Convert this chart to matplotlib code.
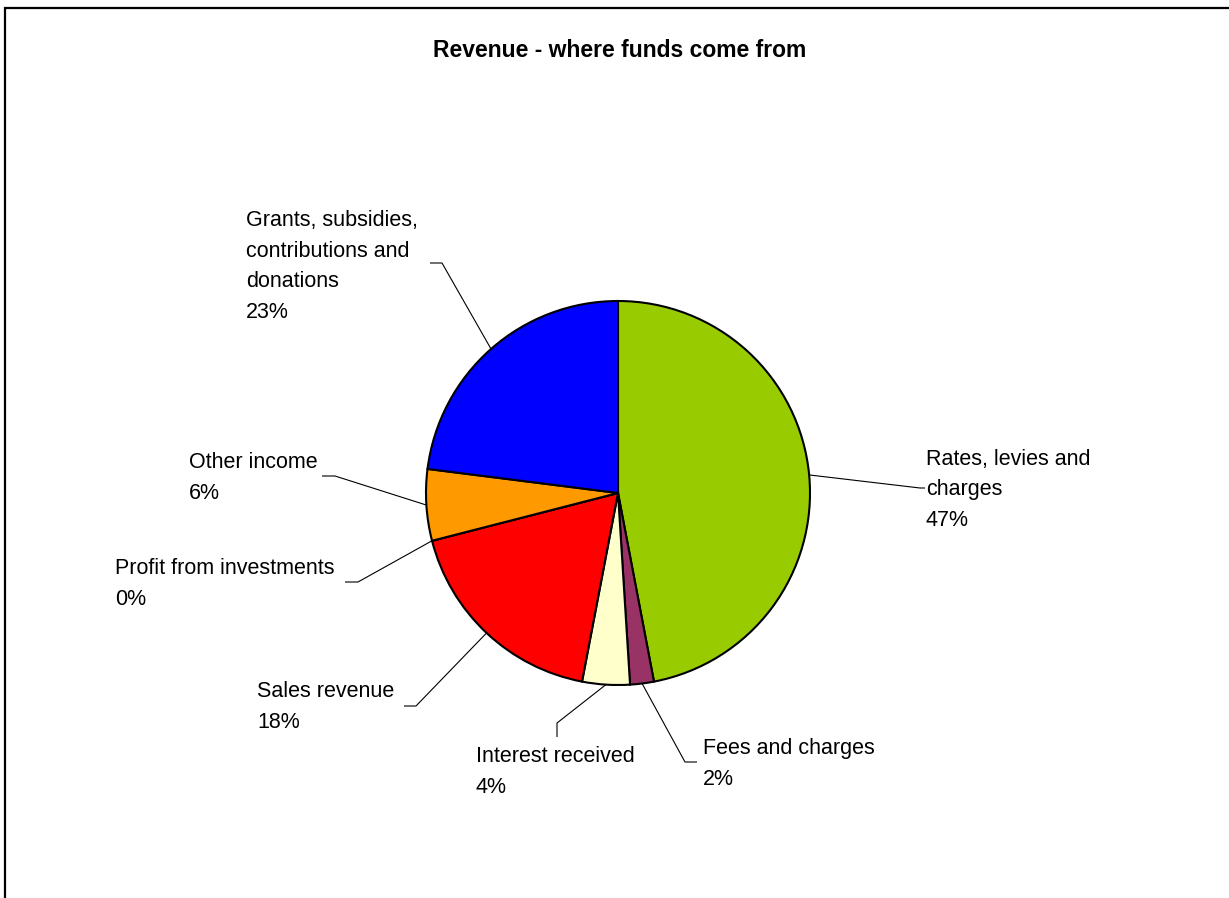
import numpy as np
import matplotlib
matplotlib.use("Agg")
import matplotlib.pyplot as plt

plt.rcParams["font.family"] = ["Liberation Sans", "DejaVu Sans"]

# revenue split, clockwise from 12 o'clock
categories = ["Rates, levies and\ncharges", "Fees and charges", "Interest received",
              "Sales revenue", "Profit from investments", "Other income",
              "Grants, subsidies,\ncontributions and\ndonations"]
shares = [47, 2, 4, 18, 0, 6, 23]
colors = ["#99CC00", "#993366", "#FFFFCC", "#FF0000", "#CCFFFF", "#FF9900", "#0000FF"]

W, H = 1229, 898
CX, CY, R = 618, 493, 192
LINE = 30  # baseline-to-baseline step of the labels, px

# label layout in pixel coords (y down): first baseline, leader elbow, leader end
label_pos = [(926, 466), (703, 755), (476, 763), (257, 698),
             (115, 575), (189, 469), (246, 228)]
elbows = [(920, 488), (685, 762), (557, 723), (416, 706),
          (358, 582), (335, 476), (442, 263)]
ends = [(925, 488), (697, 762), (557, 737), (404, 706),
        (345, 582), (322, 476), (430, 263)]


def py(y):
    return H - y


fig = plt.figure(figsize=(W / 100, H / 100), dpi=100)
ax = fig.add_axes([0, 0, 1, 1])

wedges, _ = ax.pie(shares, colors=colors, startangle=90, counterclock=False,
                   center=(CX, py(CY)), radius=R,
                   wedgeprops=dict(edgecolor="black", linewidth=1.5))
ax.set_xlim(0, W)
ax.set_ylim(0, H)
ax.set_aspect("auto")
ax.axis("off")

for w, name, share, (tx, ty), (ex, ey), (lx, ly) in zip(
        wedges, categories, shares, label_pos, elbows, ends):
    mid = np.deg2rad((w.theta1 + w.theta2) / 2)
    ax_x = CX + R * np.cos(mid)
    ax_y = py(CY) + R * np.sin(mid)
    ax.plot([ax_x, ex, lx], [ax_y, py(ey), py(ly)], color="black", lw=0.8,
            solid_capstyle="butt")
    text = "%s\n%d%%" % (name, share)
    # multiline 'baseline' alignment anchors the last line
    last = ty + LINE * text.count("\n")
    ax.text(tx, py(last), text, fontsize=15.5, ha="left", va="baseline",
            linespacing=1.6)

ax.text(620, py(57), "Revenue - where funds come from", fontsize=16.5,
        fontweight="bold", ha="center", va="baseline")

# chart area border (left and top edges)
ax.plot([5, 5, W], [0, py(8), py(8)], color="black", lw=1.6,
        solid_joinstyle="miter", clip_on=False)

fig.savefig("out.png", dpi=100)
